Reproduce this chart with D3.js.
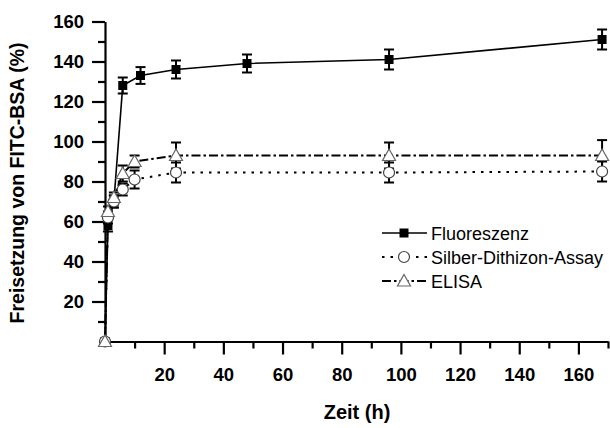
<!DOCTYPE html>
<html>
<head>
<meta charset="utf-8">
<script src="https://cdn.jsdelivr.net/npm/d3@7/dist/d3.min.js"></script>
<style>
  body { margin: 0; background: #fff; }
  svg { font-family: "Liberation Sans", Arial, sans-serif; }
</style>
</head>
<body>
<div id="corpo"></div>
<script>
// dados
var fluorTime = [0, 1, 3, 6, 12, 24, 48, 96, 168];
var fluorVal  = [0, 58, 70, 128, 133, 136, 139, 141, 151];
var fluorErr  = [0, 3, 3, 4, 4.2, 4.5, 4.5, 5, 5];

var silberTime = [0, 1, 3, 6, 10, 24, 96, 168];
var silberVal  = [0, 62, 70, 76, 81, 84.5, 84.5, 85];
var silberErr  = [0, 3, 3, 3, 4.5, 5, 5, 5];

var elisaTime = [0, 1, 3, 6, 10, 24, 96, 168];
var elisaVal  = [0, 65, 72, 84, 90, 93, 93, 93];
var elisaErr  = [0, 2.5, 2.5, 4, 3, 6.5, 6.5, 7.7];

var xMajor = [20, 40, 60, 80, 100, 120, 140, 160];
var xMinor = [10, 30, 50, 70, 90, 110, 130, 150, 170];
var yMajor = [20, 40, 60, 80, 100, 120, 140, 160];
var yMinor = [10, 30, 50, 70, 90, 110, 130, 150];

var seriesNames = ["Fluoreszenz", "Silber-Dithizon-Assay", "ELISA"];

var width = 610, height = 428;

var svg = d3.select("#corpo").append("svg")
    .attr("width", width)
    .attr("height", height);

var x = d3.scaleLinear().domain([0, 170]).range([105, 608]);
var y = d3.scaleLinear().domain([0, 160]).range([341.5, 21.5]);

function pack(t, v, e) {
    return t.map(function(d, i) { return {t: d, v: v[i], e: e[i]}; });
}
var series = [
    {name: seriesNames[0], data: pack(fluorTime, fluorVal, fluorErr), dash: null, sym: "square"},
    {name: seriesNames[1], data: pack(silberTime, silberVal, silberErr), dash: "2.5,6", sym: "circle"},
    {name: seriesNames[2], data: pack(elisaTime, elisaVal, elisaErr), dash: "9,3,2.5,3", sym: "triangle"}
];

// eixos
var fontColor = "#000";

svg.append("g")
    .attr("transform", "translate(0," + y(0) + ")")
    .call(d3.axisBottom(x).tickValues(xMinor).tickSize(7).tickFormat(""))
    .call(function(g) { g.select(".domain").remove(); });

var gx = svg.append("g")
    .attr("transform", "translate(0," + y(0) + ")")
    .call(d3.axisBottom(x).tickValues(xMajor).tickSize(13).tickPadding(13).tickSizeOuter(0));

svg.append("g")
    .attr("transform", "translate(" + x(0) + ",0)")
    .call(d3.axisLeft(y).tickValues(yMinor).tickSize(7).tickFormat(""))
    .call(function(g) { g.select(".domain").remove(); });

var gy = svg.append("g")
    .attr("transform", "translate(" + x(0) + ",0)")
    .call(d3.axisLeft(y).tickValues(yMajor).tickSize(13).tickPadding(8).tickSizeOuter(0));

svg.selectAll(".tick line").attr("stroke", fontColor).attr("stroke-width", 2.2);
svg.selectAll(".domain").attr("stroke", fontColor).attr("stroke-width", 2.2);
svg.selectAll(".tick text")
    .attr("fill", fontColor)
    .style("font-size", "18.5px")
    .style("font-weight", "bold")
    .style("font-family", "'Liberation Sans', Arial, sans-serif");

// titulos
svg.append("text")
    .attr("x", 357)
    .attr("y", 419)
    .attr("text-anchor", "middle")
    .style("font-size", "20px")
    .style("font-weight", "bold")
    .text("Zeit (h)");

svg.append("text")
    .attr("transform", "translate(24,183) rotate(-90)")
    .attr("text-anchor", "middle")
    .style("font-size", "19.5px")
    .style("font-weight", "bold")
    .text("Freisetzung von FITC-BSA (%)");

// linhas
var line = d3.line()
    .x(function(d) { return x(d.t); })
    .y(function(d) { return y(d.v); });

series.forEach(function(s) {
    svg.append("path")
        .datum(s.data)
        .attr("fill", "none")
        .attr("stroke", "#000")
        .attr("stroke-width", s.dash ? 2 : 1.6)
        .attr("stroke-dasharray", s.dash)
        .attr("d", line);
});

// barras de erro
series.forEach(function(s) {
    var g = svg.append("g");
    s.data.filter(function(d) { return d.e > 0; }).forEach(function(d) {
        var cx = x(d.t), y1 = y(d.v + d.e), y2 = y(d.v - d.e);
        g.append("line").attr("x1", cx).attr("x2", cx).attr("y1", y1).attr("y2", y2)
            .attr("stroke", "#000").attr("stroke-width", 2);
        [y1, y2].forEach(function(yy) {
            g.append("line").attr("x1", cx - 5).attr("x2", cx + 5).attr("y1", yy).attr("y2", yy)
                .attr("stroke", "#000").attr("stroke-width", 2);
        });
    });
});

// simbolos
function drawSymbol(g, sym, cx, cy) {
    if (sym === "square") {
        g.append("rect").attr("x", cx - 4.5).attr("y", cy - 4.5)
            .attr("width", 9).attr("height", 9).attr("fill", "#000");
    } else if (sym === "circle") {
        g.append("circle").attr("cx", cx).attr("cy", cy).attr("r", 5.5)
            .attr("fill", "#fff").attr("stroke", "#444").attr("stroke-width", 1.2);
    } else {
        g.append("path")
            .attr("d", "M" + cx + "," + (cy - 6.5) + "L" + (cx + 6.5) + "," + (cy + 5) + "L" + (cx - 6.5) + "," + (cy + 5) + "Z")
            .attr("fill", "#fff").attr("stroke", "#666").attr("stroke-width", 1.2);
    }
}

series.forEach(function(s) {
    var g = svg.append("g");
    s.data.forEach(function(d) {
        drawSymbol(g, s.sym, x(d.t), y(d.v));
    });
});

///LEGENDA
series.forEach(function(s, i) {
    var ly = 233 + i * 24;
    var g = svg.append("g");
    g.append("line")
        .attr("x1", 382).attr("x2", 427).attr("y1", ly).attr("y2", ly)
        .attr("stroke", "#000")
        .attr("stroke-width", s.dash ? 2 : 1.6)
        .attr("stroke-dasharray", s.dash);
    drawSymbol(g, s.sym, 404, ly);
    g.append("text")
        .attr("x", 431)
        .attr("y", ly + 6.5)
        .attr("fill", fontColor)
        .style("font-size", "18px")
        .text(s.name);
});
</script>
</body>
</html>
